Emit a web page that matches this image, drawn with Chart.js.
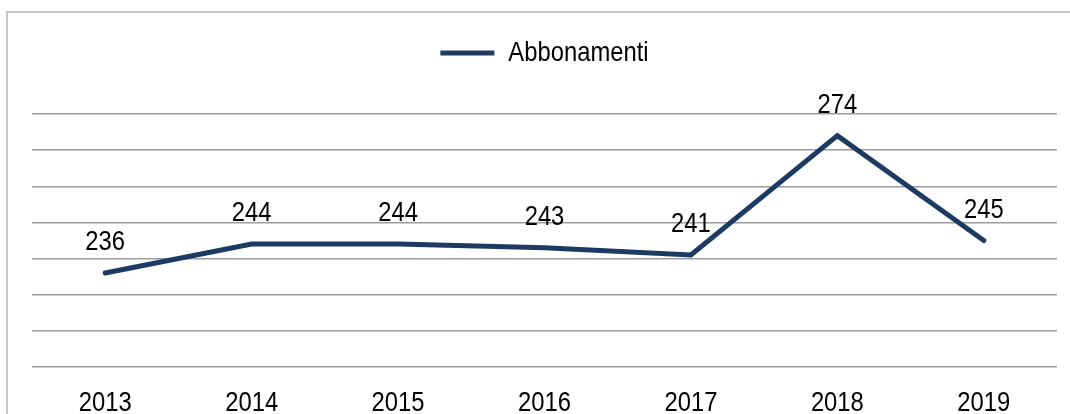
<!DOCTYPE html>
<html>
<head>
<meta charset="utf-8">
<script src="https://cdn.jsdelivr.net/npm/chart.js@4"></script>
<style>
    html, body { margin: 0; padding: 0; background: #fff; overflow: hidden; }
    #wrap { position: relative; width: 1070px; height: 414px; }
    #frame { position: absolute; left: 6px; top: 11px; width: 1100px; height: 500px; border: 2px solid #c6c6c6; }
    #abbChart { position: absolute; left: 0; top: 0; }
</style>
</head>
<body>
<div id="wrap">
    <div id="frame"></div>
    <canvas id="abbChart" width="1070" height="414"></canvas>
</div>
<script>
const years = ["2013", "2014", "2015", "2016", "2017", "2018", "2019"];
const abbonamenti = [236, 244, 244, 243, 241, 274, 245];
const seriesName = "Abbonamenti";
const yMin = 210;
const yMax = 280;
const yStep = 10;

const FONT = "'Liberation Sans', Arial, sans-serif";
const lineColor = "#1d3a62";

// no narrow font here, so squeeze text horizontally like Arial Narrow
const SX = 0.85;
const canvas = document.getElementById("abbChart");
const c2d = canvas.getContext("2d");
const origFill = c2d.fillText.bind(c2d);
const origMeasure = c2d.measureText.bind(c2d);
c2d.fillText = function (text, x, y, maxWidth) {
    this.save();
    this.translate(x, y);
    this.scale(SX, 1);
    if (maxWidth !== undefined) origFill(text, 0, 0, maxWidth / SX);
    else origFill(text, 0, 0);
    this.restore();
};
c2d.measureText = function (text) {
    const m = origMeasure(text);
    return {
        width: m.width * SX,
        actualBoundingBoxAscent: m.actualBoundingBoxAscent,
        actualBoundingBoxDescent: m.actualBoundingBoxDescent,
        actualBoundingBoxLeft: m.actualBoundingBoxLeft * SX,
        actualBoundingBoxRight: m.actualBoundingBoxRight * SX
    };
};

// value labels above each point
const valueLabels = {
    id: "valueLabels",
    afterDatasetsDraw(chart) {
        const ctx = chart.ctx;
        const meta = chart.getDatasetMeta(0);
        ctx.save();
        ctx.font = "28px " + FONT;
        ctx.fillStyle = "#000";
        ctx.textAlign = "center";
        ctx.textBaseline = "alphabetic";
        meta.data.forEach((pt, i) => {
            ctx.fillText(String(abbonamenti[i]), pt.x, pt.y - 23);
        });
        ctx.restore();
    }
};

new Chart(c2d, {
    type: "line",
    data: {
        labels: years,
        datasets: [{
            label: seriesName,
            data: abbonamenti,
            borderColor: lineColor,
            backgroundColor: lineColor,
            borderWidth: 5,
            borderCapStyle: "round",
            borderJoinStyle: "miter",
            pointRadius: 0,
            tension: 0
        }]
    },
    options: {
        responsive: false,
        animation: false,
        layout: { padding: { left: 32, right: 13, top: 19, bottom: 0 } },
        plugins: {
            legend: {
                position: "top",
                labels: {
                    usePointStyle: true,
                    pointStyle: "line",
                    pointStyleWidth: 54,
                    color: "#000",
                    font: { family: FONT, size: 28 },
                    padding: 20
                }
            },
            tooltip: { enabled: false }
        },
        scales: {
            x: {
                offset: true,
                grid: { display: false },
                border: { display: false },
                ticks: {
                    color: "#000",
                    font: { family: FONT, size: 28 },
                    padding: 11
                },
                afterFit(s) { s.height = 47; }
            },
            // empty top axis, only keeps the gap under the legend
            xTop: {
                type: "category",
                position: "top",
                offset: true,
                grid: { display: false },
                border: { display: false },
                ticks: { display: false },
                afterFit(s) { s.height = 37; }
            },
            y: {
                min: yMin,
                max: yMax,
                ticks: { display: false, stepSize: yStep },
                grid: { color: "#9c9c9c", lineWidth: 1.5, drawTicks: false },
                border: { display: false },
                afterFit(s) { s.width = 0; }
            }
        }
    },
    plugins: [valueLabels]
});
</script>
</body>
</html>
